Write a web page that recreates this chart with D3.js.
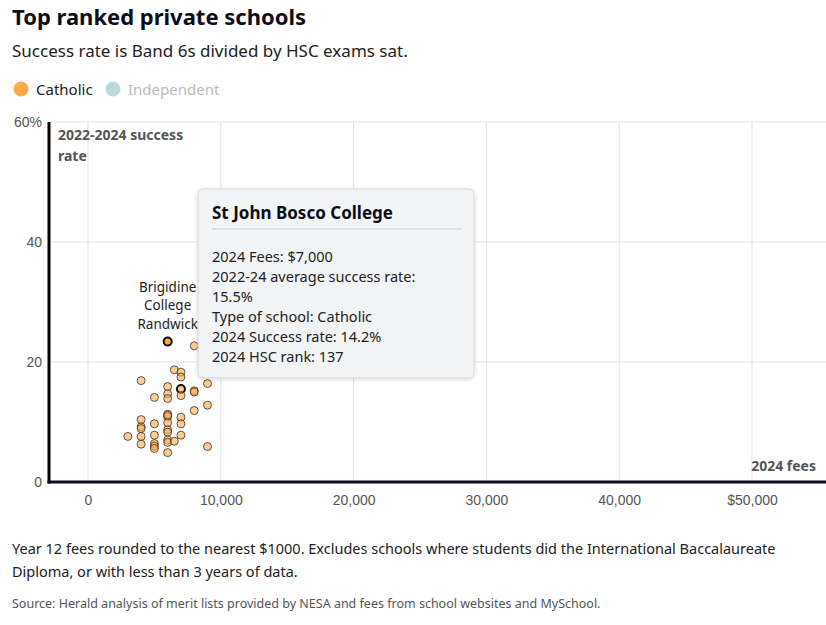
<!DOCTYPE html>
<html><head><meta charset="utf-8">
<script src="https://cdn.jsdelivr.net/npm/d3@7"></script>
<style>
body{margin:0;background:#fff;}
svg{display:block;font-family:"Noto Sans",sans-serif;}
</style></head>
<body><svg id="c" width="826" height="625"></svg>
<script>
const fees = [6000,8000,6500,7000,7000,4000,6000,7000,8000,8000,9000,5000,6000,6000,7000,9000,8000,6000,6000,6000,7000,7000,4000,4000,4000,5000,6000,6000,6000,7000,3000,4000,5000,6000,6000,6500,4000,5000,5000,5000,6000,9000];
const rates = [23.4,22.7,18.7,18.3,17.5,16.9,15.9,15.5,15.2,15.0,16.4,14.1,14.7,13.9,14.4,12.8,11.9,11.3,10.9,11.1,10.8,9.7,10.4,9.2,8.9,9.7,9.9,8.7,8.3,7.8,7.6,7.6,7.8,7.0,6.6,6.8,6.3,6.4,6.0,5.6,4.9,5.9];
const labelledIndex = 0;   // Brigidine College Randwick
const tooltipIndex = 7;    // St John Bosco College
const labelLines = ["Brigidine","College","Randwick"];
const xTicks = [0,10000,20000,30000,40000,50000];
const yTicks = [0,20,40,60];
const legendItems = ["Catholic","Independent"];
const tipTitle = "St John Bosco College";
const tipLines = ["2024 Fees: $7,000","2022-24 average success rate:","15.5%","Type of school: Catholic","2024 Success rate: 14.2%","2024 HSC rank: 137"];

const svg = d3.select("#c");
const x = d3.scaleLinear().domain([0,50000]).range([88,752]);
const y = d3.scaleLinear().domain([0,60]).range([482,122]);
const pL = 49, pR = 826, pT = 122, pB = 482;

// title etc
svg.append("text").attr("x",12).attr("y",25).attr("font-size",22).attr("font-weight",700).attr("fill","#0d0d1a").text("Top ranked private schools");
svg.append("text").attr("x",12).attr("y",57).attr("font-size",17).attr("fill","#222").text("Success rate is Band 6s divided by HSC exams sat.");
const legCol = ["#ffab47","#bcd8dc"], legTxt = ["#222","#bbb"], legX=[21,113];
legendItems.forEach((d,i)=>{
  svg.append("circle").attr("cx",legX[i]).attr("cy",89).attr("r",7.5).attr("fill",legCol[i]);
  svg.append("text").attr("x",legX[i]+15).attr("y",95).attr("font-size",15).attr("fill",legTxt[i]).text(d);
});

// grid
svg.append("g").selectAll("line").data(xTicks).join("line")
  .attr("x1",d=>x(d)).attr("x2",d=>x(d)).attr("y1",pT).attr("y2",pB).attr("stroke","#e3e3e3");
svg.append("g").selectAll("line").data(yTicks).join("line")
  .attr("x1",pL).attr("x2",pR).attr("y1",d=>y(d)).attr("y2",d=>y(d)).attr("stroke","#e3e3e3");

// axes
const xa = svg.append("g").attr("transform",`translate(0,${pB})`)
  .call(d3.axisBottom(x).tickValues(xTicks).tickSize(0).tickPadding(13)
    .tickFormat(d=>d===50000?"$"+d3.format(",")(d):d3.format(",")(d)));
xa.select(".domain").remove();
xa.selectAll("text").attr("font-size",14).attr("fill","#555");
const ya = svg.append("g").attr("transform",`translate(${pL-7},0)`)
  .call(d3.axisLeft(y).tickValues(yTicks).tickSize(0).tickPadding(0)
    .tickFormat(d=>d===60?d+"%":d));
ya.select(".domain").remove();
ya.selectAll("text").attr("font-size",14).attr("fill","#555");
svg.append("line").attr("x1",pL).attr("x2",pL).attr("y1",pT).attr("y2",pB+1.5).attr("stroke","#000").attr("stroke-width",3);
svg.append("line").attr("x1",pL-1.5).attr("x2",pR).attr("y1",pB).attr("y2",pB).attr("stroke","#0a0a1e").attr("stroke-width",3);

svg.append("text").attr("x",58).attr("y",140).attr("font-size",14).attr("font-weight",700).attr("fill","#555").text("2022-2024 success");
svg.append("text").attr("x",58).attr("y",161).attr("font-size",14).attr("font-weight",700).attr("fill","#555").text("rate");
svg.append("text").attr("x",816).attr("y",471).attr("text-anchor","end").attr("font-size",14).attr("font-weight",700).attr("fill","#555").text("2024 fees");

// dots
const pts = fees.map((f,i)=>({f, r:rates[i], i}));
svg.append("g").selectAll("circle").data(pts).join("circle")
  .attr("cx",d=>x(d.f)).attr("cy",d=>y(d.r)).attr("r",4)
  .attr("fill",d=>d.i===labelledIndex?"#ffaa3c":"rgba(255,170,70,0.6)")
  .attr("stroke",d=>(d.i===labelledIndex||d.i===tooltipIndex)?"#111":"rgba(40,40,40,0.75)")
  .attr("stroke-width",d=>(d.i===labelledIndex||d.i===tooltipIndex)?2:1);

// label (one text, three lines)
const lp = pts[labelledIndex];
const lt = svg.append("text").attr("text-anchor","middle").attr("font-size",13.5).attr("fill","#222");
labelLines.forEach((t,k)=>{
  lt.append("tspan").attr("x",x(lp.f)).attr("y",y(lp.r)-50+k*18.5).text(t);
});

// tooltip
const defs = svg.append("defs");
const f = defs.append("filter").attr("id","sh").attr("x","-10%").attr("y","-10%").attr("width","120%").attr("height","120%");
f.append("feDropShadow").attr("dx",0).attr("dy",1).attr("stdDeviation",2).attr("flood-color","#000").attr("flood-opacity",0.15);
const tg = svg.append("g");
tg.append("rect").attr("x",198).attr("y",189).attr("width",276).attr("height",189).attr("rx",5)
  .attr("fill","#f3f4f6").attr("stroke","#d6d6d6").attr("filter","url(#sh)");
tg.append("text").attr("x",212).attr("y",219).attr("font-size",17).attr("font-weight",700).attr("fill","#0d0d1a").text(tipTitle);
tg.append("line").attr("x1",212).attr("x2",462).attr("y1",229).attr("y2",229).attr("stroke","#c9cbd6");
tipLines.forEach((t,k)=>{
  tg.append("text").attr("x",212).attr("y",262+k*20).attr("font-size",14.5).attr("fill","#222").text(t);
});

// footer
svg.append("text").attr("x",12).attr("y",554).attr("font-size",14.5).attr("fill","#222")
  .text("Year 12 fees rounded to the nearest $1000. Excludes schools where students did the International Baccalaureate");
svg.append("text").attr("x",12).attr("y",577).attr("font-size",14.5).attr("fill","#222")
  .text("Diploma, or with less than 3 years of data.");
svg.append("text").attr("x",12).attr("y",608).attr("font-size",12.5).attr("fill","#555")
  .text("Source: Herald analysis of merit lists provided by NESA and fees from school websites and MySchool.");
</script></body></html>
